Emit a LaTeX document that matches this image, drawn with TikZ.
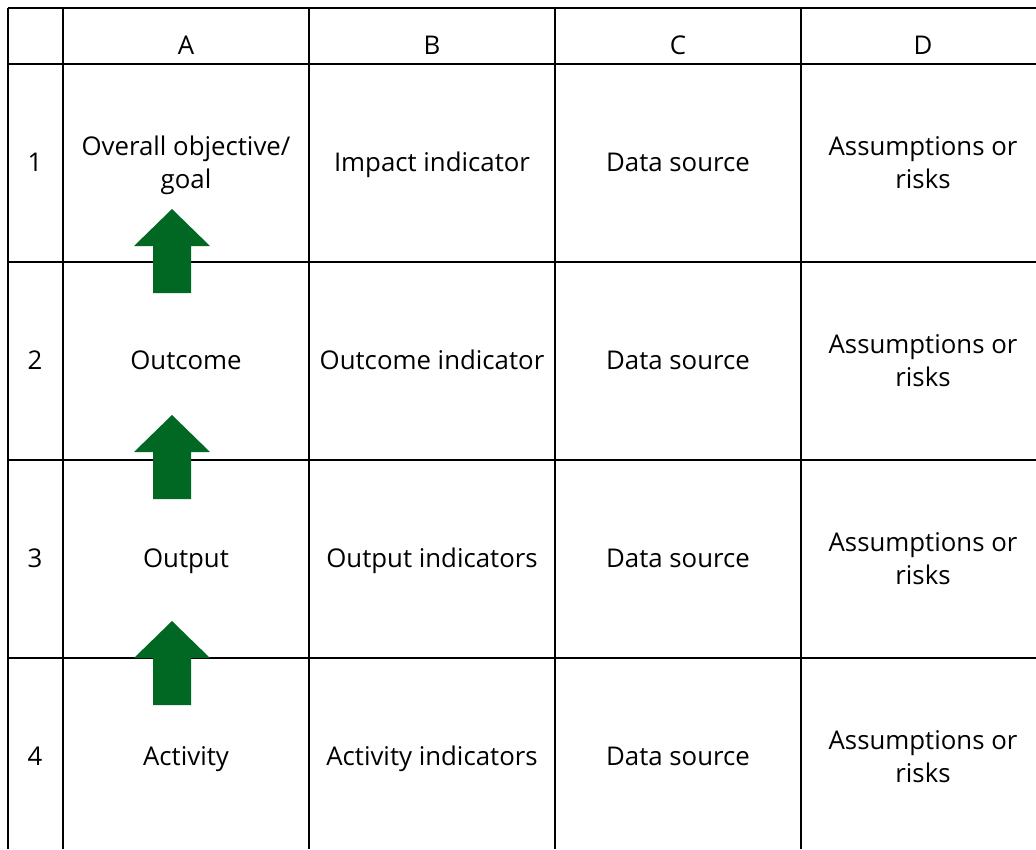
\documentclass[tikz,border=0pt]{standalone}
\usepackage{fontspec}
\setmainfont{Open Sans}
\definecolor{arrowgreen}{RGB}{0,104,35}
\tikzset{
  gridline/.style={line width=2.6pt, black},
  cell/.style={align=center, font=\fontsize{25.8}{33}\selectfont, inner sep=0pt},
  uparrow/.style={fill=arrowgreen, draw=none}
}
\begin{document}
\begin{tikzpicture}[x=1pt,y=-1pt]
\useasboundingbox (0,0) rectangle (1036,849);
\fill[white] (0,0) rectangle (1036,849);
% grid
\foreach \x in {8,63,309,555,801} \draw[gridline] (\x,8) -- (\x,849);
\foreach \y in {8,64,262,460,658} \draw[gridline] (8,\y) -- (1036,\y);
% headers
\node[cell] (hA) at (186,48) {A\strut};
\node[cell] (hB) at (432,48) {B\strut};
\node[cell] (hC) at (678,48) {C\strut};
\node[cell] (hD) at (923,48) {D\strut};
\node[cell] (r1) at (35,164.5) {1\strut};
\node[cell] (r2) at (35,362.5) {2\strut};
\node[cell] (r3) at (35,560.5) {3\strut};
\node[cell] (r4) at (35,758.5) {4\strut};
% row 1
\node[cell] (a1) at (186,165) {Overall objective/\strut\\goal\strut};
\node[cell] (b1) at (432,164.5) {Impact indicator\strut};
\node[cell] (c1) at (678,164.5) {Data source\strut};
\node[cell] (d1) at (923,165) {Assumptions or\strut\\risks\strut};
% row 2
\node[cell] (a2) at (186,362.5) {Outcome\strut};
\node[cell] (b2) at (432,362.5) {Outcome indicator\strut};
\node[cell] (c2) at (678,362.5) {Data source\strut};
\node[cell] (d2) at (923,363) {Assumptions or\strut\\risks\strut};
% row 3
\node[cell] (a3) at (186,560.5) {Output\strut};
\node[cell] (b3) at (432,560.5) {Output indicators\strut};
\node[cell] (c3) at (678,560.5) {Data source\strut};
\node[cell] (d3) at (923,561) {Assumptions or\strut\\risks\strut};
% row 4
\node[cell] (a4) at (186,758.5) {Activity\strut};
\node[cell] (b4) at (432,758.5) {Activity indicators\strut};
\node[cell] (c4) at (678,758.5) {Data source\strut};
\node[cell] (d4) at (923,759) {Assumptions or\strut\\risks\strut};
% arrows
\foreach \t in {209,415,621} {
  \fill[uparrow] (172,\t) -- (210,\t+37) -- (191,\t+37) -- (191,\t+84) -- (153,\t+84) -- (153,\t+37) -- (134,\t+37) -- cycle;
}
\end{tikzpicture}
\end{document}
